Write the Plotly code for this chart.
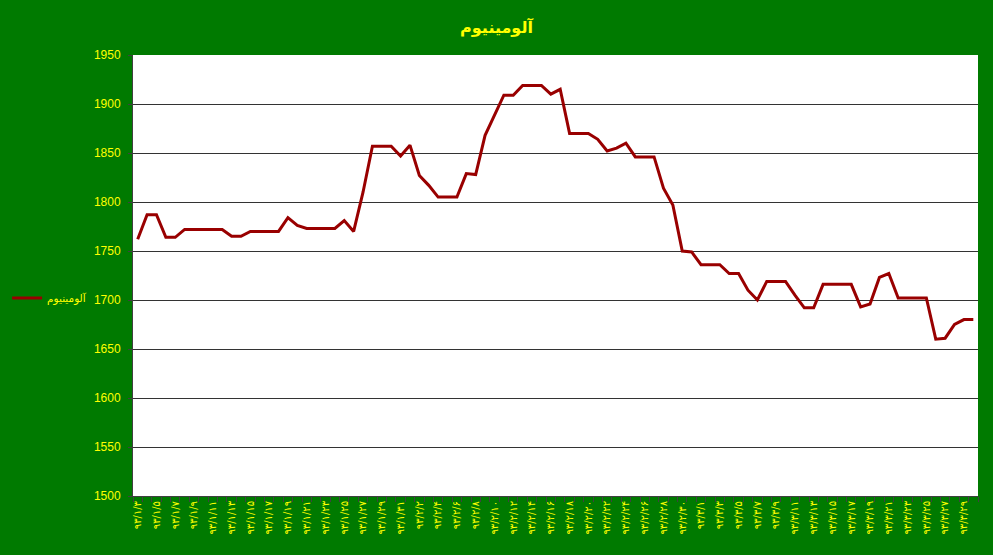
import plotly.graph_objects as go

FA = str.maketrans("0123456789", "۰۱۲۳۴۵۶۷۸۹")

# Category dates (Persian calendar, year 93), one per day
month_days = [(1, range(3, 32)), (2, range(1, 32)), (3, range(1, 31))]
dates = [f"93/{m}/{d}".translate(FA) for m, days in month_days for d in days]

# Aluminium price series
values = [
    1762, 1787, 1787, 1764, 1764, 1772, 1772, 1772, 1772, 1772,
    1765, 1765, 1770, 1770, 1770, 1770, 1784, 1776, 1773, 1773,
    1773, 1773, 1781, 1770, 1810, 1857, 1857, 1857, 1847, 1858,
    1827, 1817, 1805, 1805, 1805, 1829, 1828, 1868, 1888, 1909,
    1909, 1919, 1919, 1919, 1910, 1915, 1870, 1870, 1870, 1864,
    1852, 1855, 1860, 1846, 1846, 1846, 1814, 1797, 1750, 1749,
    1736, 1736, 1736, 1727, 1727, 1710, 1700, 1719, 1719, 1719,
    1705, 1692, 1692, 1716, 1716, 1716, 1716, 1693, 1696, 1723,
    1727, 1702, 1702, 1702, 1702, 1660, 1661, 1675, 1680, 1680,
]

tick_text = [d if i % 2 == 0 else "" for i, d in enumerate(dates)]
series_name = "آلومینیوم"
title_text = "آلومینیوم"

GREEN = "#007A00"
YELLOW = "#FFFF00"

fig = go.Figure()
fig.add_trace(go.Scatter(
    x=dates, y=values, mode="lines", name=series_name,
    line=dict(color="#990000", width=3),
))

fig.update_layout(
    width=993, height=555,
    paper_bgcolor=GREEN, plot_bgcolor="white",
    margin=dict(l=133, r=15, t=55, b=59, autoexpand=False),
    title=dict(text=title_text, x=0.5, xanchor="center", y=0.951, yanchor="middle",
               font=dict(family="DejaVu Sans", size=16, color=YELLOW, weight="bold")),
    showlegend=True,
    legend=dict(x=-0.149, xanchor="left", y=0.449, yanchor="middle",
                font=dict(family="DejaVu Sans", size=10.5, color=YELLOW),
                bgcolor="rgba(0,0,0,0)", itemwidth=30),
    xaxis=dict(
        type="category", categoryorder="array", categoryarray=dates,
        range=[-0.5, len(dates) - 0.5],
        tickmode="array", tickvals=dates, ticktext=tick_text,
        tickson="boundaries", ticks="outside", ticklen=5, tickcolor="#404040",
        tickangle=-90, showgrid=False, automargin=False,
        tickfont=dict(family="DejaVu Sans", size=10, color=YELLOW),
        showline=True, linecolor="#404040", linewidth=1,
    ),
    yaxis=dict(
        range=[1500, 1950], tick0=1500, dtick=50, automargin=False,
        showgrid=True, gridcolor="#333333", gridwidth=1,
        ticks="outside", ticklen=4, tickcolor="#404040",
        ticklabelstandoff=5,
        tickfont=dict(family="Liberation Sans", size=12, color=YELLOW),
        showline=True, linecolor="#404040", linewidth=1,
        zeroline=False,
    ),
)

fig.write_html("out.html", config={"displayModeBar": False},
               post_script="document.body.style.margin='0';document.body.style.overflow='hidden';")
